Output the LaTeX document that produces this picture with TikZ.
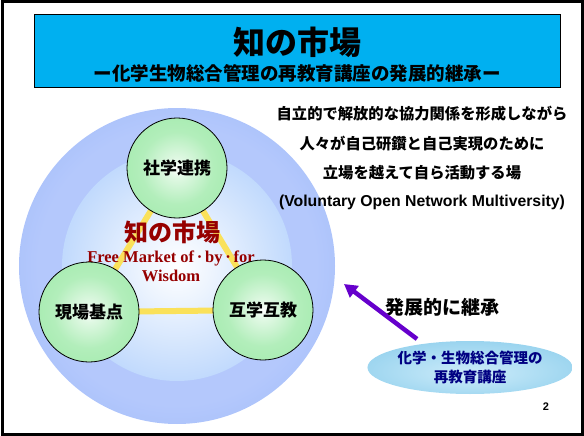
\documentclass[tikz,border=0pt]{standalone}
\usepackage{fontspec}
\setmainfont{Liberation Sans}
\newfontfamily\jp{Noto Sans CJK JP}
\newfontfamily\serifen{Liberation Serif}
\usetikzlibrary{shapes.geometric,arrows.meta}
\definecolor{titleblue}{RGB}{0,176,240}
\definecolor{ringblue}{RGB}{164,190,250}
\definecolor{ringlight}{RGB}{180,200,252}
\definecolor{innerblue}{RGB}{180,210,252}
\definecolor{ballgreen}{RGB}{165,235,175}
\definecolor{triyellow}{RGB}{250,225,90}
\definecolor{wisdomred}{RGB}{150,0,0}
\definecolor{arrowpurple}{RGB}{102,0,204}
\definecolor{ellblue}{RGB}{150,210,238}
\definecolor{elllight}{RGB}{205,236,250}
\definecolor{navytext}{RGB}{0,0,130}
\pgfdeclareradialshading{ballshade}{\pgfpoint{0bp}{0bp}}{color(0bp)=(white); color(5bp)=(white!65!ballgreen); color(18bp)=(white!15!ballgreen); color(30bp)=(ballgreen); color(50bp)=(ballgreen)}
\pgfdeclareradialshading{discshade}{\pgfpoint{0bp}{0bp}}{color(0bp)=(white); color(8bp)=(white!75!innerblue); color(30bp)=(innerblue); color(50bp)=(innerblue)}
\pgfdeclareradialshading{ringshade}{\pgfpoint{0bp}{0bp}}{color(0bp)=(ringlight); color(22bp)=(ringlight); color(30bp)=(ringblue); color(50bp)=(ringblue)}
\pgfdeclareradialshading{ellshade}{\pgfpoint{0bp}{-6bp}}{color(0bp)=(elllight); color(30bp)=(ellblue); color(50bp)=(ellblue)}
\begin{document}
\begin{tikzpicture}[x=1pt,y=-1pt,
  ball/.style={circle,draw=black,line width=0.8pt,minimum size=100pt,inner sep=0pt,
    shading=ballshade,font=\jp\bfseries\fontsize{17}{20}\selectfont},
  rtext/.style={inner sep=0pt,font=\jp\bfseries\fontsize{15.3}{18}\selectfont},
  ]
\useasboundingbox (0,0) rectangle (584,436);
% frame
\draw[line width=3pt] (2,1.5) rectangle (582,434.5);
% title box
\node[draw=black,line width=1pt,fill=titleblue,minimum width=526pt,minimum height=73pt,inner sep=0pt] (titlebox) at (297,51.5) {};
\node[inner sep=0pt,font=\jp\bfseries\fontsize{32}{36}\selectfont] (title) at (297,42) {知の市場};
\node[inner sep=0pt,font=\jp\bfseries\fontsize{18.5}{22}\selectfont] (subtitle) at (297,73) {ー化学生物総合管理の再教育講座の発展的継承ー};
% big disc
\shade[shading=ringshade] (177,266) circle (158);
\shade[shading=discshade] (177,266) circle (115);
% triangle
\coordinate (ctop) at (177,168);
\coordinate (cleft) at (89,312);
\coordinate (cright) at (263,310);
\draw[triyellow,line width=6pt,line join=round] (ctop) -- (cleft) -- (cright) -- cycle;
% red text
\node[inner sep=0pt,text=wisdomred,font=\jp\bfseries\fontsize{24}{26}\selectfont] (chi) at (172,232) {知の市場};
\node[inner sep=0pt,text=wisdomred,align=center,font=\serifen\bfseries\fontsize{16.5}{19.5}\selectfont] (fm) at (171,266.5) {Free Market of\,·\,by\,·\,for\\Wisdom};
% balls
\node[ball] (top) at (ctop) {社学連携};
\node[ball] (left) at (cleft) {現場基点};
\node[ball] (right) at (cright) {互学互教};
% right texts
\node[rtext] (l1) at (422,114) {自立的で解放的な協力関係を形成しながら};
\node[rtext] (l2) at (422,143.5) {人々が自己研鑽と自己実現のために};
\node[rtext] (l3) at (422,173) {立場を越えて自ら活動する場};
\node[inner sep=0pt,font=\bfseries\fontsize{15.8}{18}\selectfont] (l4) at (422,202) {(Voluntary Open Network Multiversity)};
% inheritance
\node[inner sep=0pt,font=\jp\bfseries\fontsize{19}{22}\selectfont] (hatten) at (442,307) {発展的に継承};
\node[ellipse,minimum width=188pt,minimum height=53pt,inner sep=0pt,shading=ellshade,
  text=navytext,align=center,font=\jp\bfseries\fontsize{14.5}{19}\selectfont] (ell) at (470,367.5) {化学・生物総合管理の\\再教育講座};
\coordinate (arrtail) at (417,339);
\coordinate (arrtip) at (344,284);
\draw[arrowpurple,line width=4.5pt,-{Triangle[length=13pt,width=14pt]}] (arrtail) -- (arrtip);
\node[inner sep=0pt,font=\bfseries\fontsize{11}{13}\selectfont] (pg) at (546,407) {2};
\end{tikzpicture}
\end{document}
